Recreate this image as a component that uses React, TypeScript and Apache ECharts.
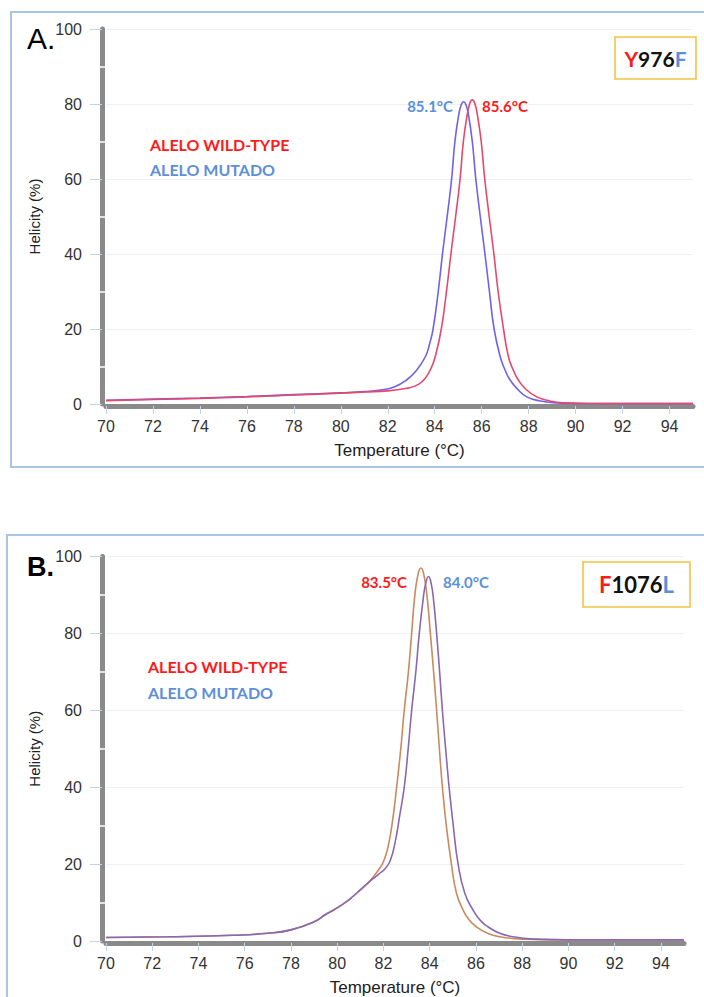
import React, { useEffect, useRef } from 'react';
import * as echarts from 'echarts';

// ---------- axis ticks ----------
const xTicks = [70, 72, 74, 76, 78, 80, 82, 84, 86, 88, 90, 92, 94];
const yTicks = [0, 20, 40, 60, 80, 100];

// ---------- Panel A (Y976F) ----------
const aWtTemp = [70, 72, 74, 76, 78, 80, 81, 82, 82.82, 83.2, 83.45, 83.65, 83.85, 84.02, 84.28, 84.5, 84.69, 84.89, 85.08, 85.22, 85.38, 85.5, 85.6, 85.7, 85.82, 85.98, 86.13, 86.32, 86.52, 86.7, 86.93, 87.14, 87.35, 87.56, 87.9, 88.35, 88.9, 89.46, 90.5, 92, 95];
const aWtVal = [0.9, 1.2, 1.5, 1.9, 2.4, 2.9, 3.2, 3.5, 4.2, 4.9, 5.9, 7.3, 9.6, 12.6, 20, 30, 40, 50, 60, 70, 77, 80.3, 81.1, 80.3, 77, 70, 60, 50, 40, 30, 20, 12.6, 9.0, 6.4, 3.8, 1.9, 0.8, 0.3, 0.15, 0.1, 0.1];

const aMutTemp = [70, 72, 74, 76, 78, 80, 81, 81.7, 82.3, 82.8, 83.2, 83.6, 83.78, 83.93, 84.15, 84.33, 84.53, 84.72, 84.86, 85.02, 85.13, 85.23, 85.33, 85.44, 85.6, 85.75, 85.94, 86.14, 86.33, 86.53, 86.79, 87.0, 87.21, 87.55, 87.92, 88.5, 89.2, 90, 92, 95];
const aMutVal = [1.0, 1.3, 1.6, 2.0, 2.5, 3.0, 3.3, 3.7, 4.6, 6.4, 8.8, 12.6, 16.0, 20, 30, 40, 50, 60, 70, 77, 79.8, 80.6, 79.8, 77, 70, 60, 50, 40, 30, 20, 12.6, 9.0, 6.4, 3.8, 1.9, 0.8, 0.3, 0.15, 0.1, 0.1];

// ---------- Panel B (F1076L) ----------
const bWtTemp = [70, 72.66, 75.5, 77, 78, 79, 79.5, 79.83, 80.1, 80.42, 80.7, 81.0, 81.35, 81.6, 81.8, 82.0, 82.2, 82.4, 82.57, 82.75, 82.9, 83.08, 83.22, 83.36, 83.5, 83.62, 83.74, 83.88, 84.03, 84.17, 84.3, 84.42, 84.55, 84.72, 84.94, 85.16, 85.45, 85.7, 86.02, 86.5, 87.03, 88, 90, 95];
const bWtVal = [0.9, 1.1, 1.5, 2.0, 2.9, 5.0, 6.9, 8.0, 9.0, 10.3, 11.7, 13.3, 15.2, 17.0, 18.6, 20.6, 24.5, 31.5, 40, 50, 60, 70, 80, 90, 95.5, 97, 95.5, 90, 80, 70, 60, 50, 40, 30, 20, 12.4, 8, 5.5, 3.7, 2.0, 1.1, 0.5, 0.3, 0.3];

const bMutTemp = [70, 72.66, 75.5, 77, 78, 79, 79.5, 79.83, 80.1, 80.42, 80.7, 81.0, 81.35, 81.8, 82.1, 82.3, 82.5, 82.7, 82.9, 83.07, 83.22, 83.4, 83.55, 83.7, 83.82, 83.95, 84.07, 84.18, 84.3, 84.43, 84.55, 84.69, 84.84, 85.02, 85.23, 85.52, 85.88, 86.2, 86.52, 87.0, 87.6, 88.5, 90, 95];
const bMutVal = [0.9, 1.1, 1.5, 2.0, 2.9, 5.0, 6.9, 8.0, 9.0, 10.3, 11.7, 13.3, 15.2, 17.4, 19.0, 21, 25.5, 32.5, 40, 50, 60, 70, 80, 88, 92.8, 94.8, 92.8, 88, 80, 70, 60, 50, 40, 30, 20, 12.4, 8, 5.3, 3.7, 2.1, 1.1, 0.5, 0.3, 0.3];

const zip = (t: number[], v: number[]) => t.map((x, i) => [x, v[i]]);

const AXIS_FONT = '"Liberation Sans", Arial, sans-serif';
const LBL_FONT = 'Lato, "Noto Sans", sans-serif';
const RED = '#ff1a1a';
const BLUE = '#5d8fd8';

function xAxisFor(grid: number) {
  return {
    type: 'value', gridIndex: grid, min: 70, max: 95, interval: 2, offset: 2,
    name: 'Temperature (°C)', nameLocation: 'middle', nameGap: 36,
    nameTextStyle: { fontSize: 17, color: '#222', fontFamily: AXIS_FONT },
    axisLine: { show: true, onZero: false, lineStyle: { color: '#8a8a8a', width: 5 } },
    axisTick: { show: true, length: 8, customValues: xTicks, lineStyle: { color: '#c3d3e6', width: 1 } },
    axisLabel: { customValues: xTicks, margin: 12, fontSize: 16, color: '#333', fontFamily: AXIS_FONT },
    splitLine: { show: false },
  };
}
function yAxisFor(grid: number) {
  return {
    type: 'value', gridIndex: grid, min: 0, max: 100, interval: 20, offset: 4, position: 'left',
    name: 'Helicity (%)', nameLocation: 'middle', nameGap: 60, nameRotate: 90,
    nameTextStyle: { fontSize: 15, color: '#222', fontFamily: AXIS_FONT },
    axisLine: { show: true, lineStyle: { color: '#8a8a8a', width: 5 } },
    axisTick: { show: true, length: 12, customValues: yTicks, lineStyle: { color: '#c3d3e6', width: 1 } },
    axisLabel: { customValues: yTicks, margin: 20, fontSize: 16, color: '#333', fontFamily: AXIS_FONT },
    splitLine: { show: true, lineStyle: { color: '#edf0f4', width: 1 } },
  };
}
function yHelperFor(grid: number) {
  return {
    type: 'value', gridIndex: grid, min: 0, max: 100, interval: 20, offset: 7, position: 'left',
    axisLine: { show: false }, axisTick: { show: false }, axisLabel: { show: false }, splitLine: { show: false },
    minorTick: { show: true, splitNumber: 2, length: -6, lineStyle: { color: '#ffffff', width: 1.5 } },
  };
}
function lineSeries(x: number, y: number, data: number[][], color: string, name: string) {
  return {
    type: 'line', name, xAxisIndex: x, yAxisIndex: y, data, showSymbol: false, symbol: 'none',
    smooth: 0.5, lineStyle: { width: 1.6, color }, itemStyle: { color }, z: 3,
  };
}
function txt(x: number, y: number, text: string, fill: string, size: number, align = 'left', weight = 'bold', family = LBL_FONT) {
  return {
    type: 'text', x, y, z: 10,
    style: { text, fill, fontSize: size, fontWeight: weight, fontFamily: family, align, verticalAlign: 'middle', textAlign: align, textVerticalAlign: 'middle' },
  };
}
function tagBox(x: number, y: number, w: number, h: number, a: string, mid: string, b: string, size: number) {
  const rs = (fill: string) => ({ fill, fontSize: size, fontWeight: 'bold', fontFamily: LBL_FONT });
  return [
    { type: 'rect', z: 9, shape: { x, y, width: w, height: h }, style: { fill: '#fff', stroke: '#f4c344', lineWidth: 1.6 } },
    {
      type: 'text', z: 10, x: x + w / 2, y: y + h / 2,
      style: { text: `{r|${a}}{k|${mid}}{b|${b}}`, rich: { r: rs(RED), k: rs('#111'), b: rs(BLUE) }, align: 'center', verticalAlign: 'middle', textAlign: 'center', textVerticalAlign: 'middle' },
    },
  ];
}

export default function App() {
  const ref = useRef<HTMLDivElement>(null);
  useEffect(() => {
    const chart = echarts.init(ref.current!, null, { renderer: 'svg' });
    const option: any = {
      animation: false,
      backgroundColor: '#ffffff',
      grid: [
        { left: 106, top: 29, width: 587, height: 375 },
        { left: 106, top: 556.5, width: 578, height: 384.5 },
      ],
      xAxis: [xAxisFor(0), xAxisFor(1)],
      yAxis: [yAxisFor(0), yHelperFor(0), yAxisFor(1), yHelperFor(1)],
      series: [
        lineSeries(0, 0, zip(aMutTemp, aMutVal), '#6f62e6', 'A mutado'),
        lineSeries(0, 0, zip(aWtTemp, aWtVal), '#e5486c', 'A wild-type'),
        lineSeries(1, 2, zip(bWtTemp, bWtVal), '#c98a60', 'B wild-type'),
        lineSeries(1, 2, zip(bMutTemp, bMutVal), '#8a68b0', 'B mutado'),
      ],
      graphic: [
        { type: 'rect', z: -1, shape: { x: 11, y: 12, width: 720, height: 455 }, style: { fill: 'none', stroke: '#a9c5e6', lineWidth: 2 } },
        { type: 'rect', z: -1, shape: { x: 7, y: 535, width: 720, height: 500 }, style: { fill: 'none', stroke: '#a9c5e6', lineWidth: 2 } },
        txt(27, 38, 'A.', '#000', 30, 'left', 'normal', AXIS_FONT),
        txt(27, 567, 'B.', '#000', 27, 'left', 'bold', AXIS_FONT),
        txt(150, 144, 'ALELO WILD-TYPE', RED, 16),
        txt(150, 169, 'ALELO MUTADO', BLUE, 16),
        txt(148, 666, 'ALELO WILD-TYPE', RED, 16),
        txt(148, 692, 'ALELO MUTADO', BLUE, 16),
        txt(453, 106, '85.1°C', BLUE, 15, 'right'),
        txt(482, 106, '85.6°C', RED, 15, 'left'),
        txt(407, 582, '83.5°C', RED, 15, 'right'),
        txt(443, 582, '84.0°C', BLUE, 15, 'left'),
        ...tagBox(615, 37, 81, 42, 'Y', '976', 'F', 21),
        ...tagBox(583, 562, 107, 45, 'F', '1076', 'L', 22),
      ],
    };
    chart.setOption(option);
    return () => chart.dispose();
  }, []);
  return <div ref={ref} style={{ position: 'fixed', left: 0, top: 0, width: 704, height: 997, background: '#fff' }} />;
}
